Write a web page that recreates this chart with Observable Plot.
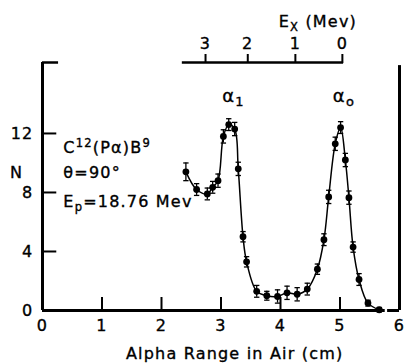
<!DOCTYPE html>
<html><head><meta charset="utf-8">
<script src="https://cdn.jsdelivr.net/npm/d3@7"></script>
<script src="https://cdn.jsdelivr.net/npm/@observablehq/plot@0.6"></script>
<style>
body{margin:0;background:#fff}
svg text{letter-spacing:1.2px;stroke:#000;stroke-width:0.35px}
</style>
</head><body><div id="chart"></div>
<script>
// Data
const rangeCm = [2.41,2.59,2.77,2.86,2.95,3.04,3.13,3.23,3.29,3.37,3.43,3.60,3.77,3.95,4.11,4.28,4.45,4.62,4.73,4.81,4.92,5.01,5.09,5.15,5.22,5.32,5.47,5.66];
const counts  = [9.4,8.2,7.9,8.35,8.8,11.8,12.6,12.3,9.6,5.0,3.3,1.3,1.0,0.95,1.2,1.1,1.45,2.8,4.8,7.7,11.3,12.4,10.2,7.65,4.3,2.1,0.5,0.05];
const errors  = [0.6,0.4,0.4,0.4,0.45,0.45,0.4,0.45,0.45,0.35,0.35,0.4,0.3,0.45,0.45,0.45,0.4,0.35,0.4,0.45,0.45,0.4,0.45,0.45,0.35,0.4,0.2,0.15];
const xTicks = [0,1,2,3,4,5,6];
const yTicks = [0,4,8,12];
const exLabels = ["3","2","1","0"];
const exPositions = [2.74,3.45,4.25,5.04];
const titleLines = ["C^{12}(Pα)B^{9}", "θ=90°", "E_{p}=18.76 Mev"];
const peakLabels = ["α_{1}", "α_{o}"];

const data = rangeCm.map((x,i)=>({x, y: counts[i], e: errors[i]}));
const yMax = 16.81;
const capW = 0.045;

const chart = Plot.plot({
  width: 406, height: 363,
  marginLeft: 42, marginRight: 7, marginTop: 62, marginBottom: 53,
  x: {domain: [0,6], label: null},
  y: {domain: [0,yMax], label: null},
  style: {fontFamily: "DejaVu Sans", fontSize: "16px", color: "#000", background: "#fff"},
  marks: [
    Plot.axisX({anchor: "bottom", ticks: xTicks, tickFormat: d3.format("d"), tickSize: 0, tickPadding: 9, label: null, fontSize: 16}),
    Plot.axisY({anchor: "left", ticks: yTicks, tickFormat: d3.format("d"), tickSize: 0, tickPadding: 9, label: null, fontSize: 16}),
    Plot.ruleX(xTicks.slice(1,-1), {x: d=>d, y1: 0, y2: 0.88, strokeWidth: 2}),
    Plot.ruleY(yTicks.slice(1), {y: d=>d, x1: 0, x2: 0.24, strokeWidth: 2}),
    // frame brackets
    Plot.ruleX([0], {y1: 0, y2: yMax, strokeWidth: 3}),
    Plot.ruleY([yMax], {x1: 0, x2: 0.27, strokeWidth: 2.5}),
    Plot.ruleY([0], {x1: 0, x2: 5.76, strokeWidth: 3}),
    Plot.ruleY([0], {x1: 5.8, x2: 6, strokeWidth: 3}),
    Plot.ruleX([6], {y1: 0, y2: 16.6, strokeWidth: 3}),
    // top E_x axis
    Plot.ruleY([yMax], {x1: 2.35, x2: 5.06, strokeWidth: 2.5}),
    Plot.axisX({anchor: "top", ticks: exPositions, tickFormat: d => exLabels[exPositions.indexOf(d)], tickSize: 9, tickPadding: 5, strokeWidth: 2, label: null, fontSize: 16}),
    Plot.text(["E_{X} (Mev)"], {x: 3.97, y: 19.55, textAnchor: "start", lineAnchor: "middle", fontSize: 16}),
    // data
    Plot.line(data, {x: "x", y: "y", curve: "catmull-rom", strokeWidth: 1.5, stroke: "#000"}),
    Plot.ruleX(data, {x: "x", y1: d=>d.y-d.e, y2: d=>d.y+d.e, strokeWidth: 1.3}),
    Plot.link(data, {x1: d=>d.x-capW, x2: d=>d.x+capW, y1: d=>d.y+d.e, y2: d=>d.y+d.e, strokeWidth: 1.3}),
    Plot.link(data, {x1: d=>d.x-capW, x2: d=>d.x+capW, y1: d=>d.y-d.e, y2: d=>d.y-d.e, strokeWidth: 1.3}),
    Plot.dot(data, {x: "x", y: "y", r: 3.4, fill: "#000", stroke: null}),
    // annotations
    Plot.text([titleLines[0]], {x: 0.35, y: 11.02, textAnchor: "start", lineAnchor: "middle", fontSize: 16}),
    Plot.text([titleLines[1]], {x: 0.35, y: 9.32, textAnchor: "start", lineAnchor: "middle", fontSize: 16}),
    Plot.text([titleLines[2]], {x: 0.35, y: 7.39, textAnchor: "start", lineAnchor: "middle", fontSize: 16}),
    Plot.text(["N"], {x: -0.437, y: 9.36, textAnchor: "middle", lineAnchor: "middle", fontSize: 16}),
    Plot.text([peakLabels[0]], {x: 3.02, y: 14.55, textAnchor: "start", lineAnchor: "middle", fontSize: 18}),
    Plot.text([peakLabels[1]], {x: 4.88, y: 14.55, textAnchor: "start", lineAnchor: "middle", fontSize: 18}),
    Plot.text(["Alpha Range in Air (cm)"], {x: 3.23, y: -2.92, textAnchor: "middle", lineAnchor: "middle", fontSize: 16})
  ]
});

function richify(svg){
  d3.select(svg).selectAll("text").each(function(){
    const t = this.textContent;
    if(!/[\^_]\{/.test(t)) return;
    const parts = t.split(/([\^_]\{[^}]*\})/).filter(s=>s);
    const sel = d3.select(this); sel.text(null);
    let shift = 0;
    for(const p of parts){
      const m = p.match(/^([\^_])\{([^}]*)\}$/);
      if(m){
        const target = m[1] === "^" ? -6 : 4;
        sel.append("tspan").attr("dy", target - shift).attr("font-size", "0.72em").text(m[2]);
        shift = target;
      } else {
        sel.append("tspan").attr("dy", -shift).text(p);
        shift = 0;
      }
    }
  });
}
richify(chart);
document.getElementById("chart").appendChild(chart);
</script>
</body></html>
